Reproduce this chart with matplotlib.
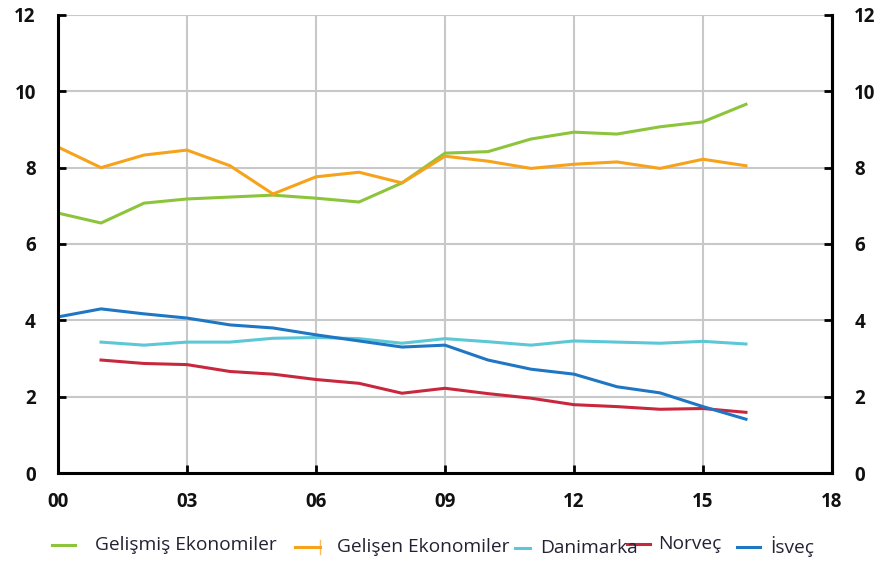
import numpy as np
import matplotlib
matplotlib.use('Agg')
import matplotlib.pyplot as plt
from matplotlib.lines import Line2D

plt.rcParams['font.family'] = ['Open Sans', 'DejaVu Sans']

years = np.arange(0, 17)
years_nordic = np.arange(1, 17)

gelismis = [6.81, 6.55, 7.07, 7.18, 7.23, 7.28, 7.20, 7.10, 7.60, 8.38,
            8.42, 8.75, 8.93, 8.88, 9.07, 9.20, 9.66]
gelisen = [8.54, 8.00, 8.33, 8.46, 8.05, 7.31, 7.76, 7.88, 7.60, 8.30,
           8.17, 7.98, 8.09, 8.15, 7.98, 8.22, 8.05]
isvec = [4.09, 4.30, 4.17, 4.06, 3.88, 3.80, 3.62, 3.46, 3.30, 3.35,
         2.96, 2.72, 2.59, 2.26, 2.10, 1.74, 1.41]
danimarka = [3.43, 3.35, 3.43, 3.43, 3.53, 3.55, 3.52, 3.40, 3.52,
             3.44, 3.35, 3.46, 3.43, 3.40, 3.45, 3.38]
norvec = [2.96, 2.87, 2.84, 2.66, 2.59, 2.45, 2.35, 2.09, 2.22,
          2.08, 1.96, 1.79, 1.74, 1.67, 1.69, 1.59]

xticks = [0, 3, 6, 9, 12, 15, 18]
xtick_labels = ['00', '03', '06', '09', '12', '15', '18']
yticks = [0, 2, 4, 6, 8, 10, 12]

green = '#8cc43c'
orange = '#f7a21b'
cyan = '#5cc8d6'
red = '#c8283e'
blue = '#1f77c4'

fig = plt.figure(figsize=(8.83, 5.65), dpi=100)
ax = fig.add_axes([0.0657, 0.1628, 0.8765, 0.8107])

lw = 2.2
ax.plot(years, gelismis, color=green, lw=lw)
ax.plot(years, gelisen, color=orange, lw=lw)
ax.plot(years_nordic, danimarka, color=cyan, lw=lw)
ax.plot(years_nordic, norvec, color=red, lw=lw)
ax.plot(years, isvec, color=blue, lw=lw)

ax.set_xlim(0, 18)
ax.set_ylim(0, 12)
ax.set_xticks(xticks)
ax.set_xticklabels(xtick_labels)
ax.set_yticks(yticks)
ax.grid(True, color='#c8c8c8', lw=1.5)
ax.set_axisbelow(True)

for side in ['left', 'right', 'bottom']:
    ax.spines[side].set_linewidth(2.2)
    ax.spines[side].set_color('black')
ax.spines['top'].set_visible(False)

ax.tick_params(axis='both', direction='in', length=6, width=2, labelsize=13.5,
               labelcolor='#111111')
ax.tick_params(axis='x', pad=14)
ax.tick_params(axis='y', pad=16)
for lab in ax.get_xticklabels() + ax.get_yticklabels():
    lab.set_fontweight('bold')

# right-hand axis repeats the same scale
ax2 = ax.twinx()
ax2.set_ylim(ax.get_ylim())
ax2.set_yticks(yticks)
ax2.tick_params(axis='y', direction='in', length=6, width=2, labelsize=13.5,
                labelcolor='#111111', pad=16)
for lab in ax2.get_yticklabels():
    lab.set_fontweight('bold')
for side in ['left', 'top', 'bottom']:
    ax2.spines[side].set_visible(False)
ax2.spines['right'].set_linewidth(2.2)

# legend row laid out by hand
W, H = 883, 565
entries = [
    (green, 52, 75, 95, 'Gelişmiş Ekonomiler', 545),
    (orange, 295, 320, 337, 'Gelişen Ekonomiler', 547),
    (cyan, 515, 530, 540, 'Danimarka', 548),
    (red, 627, 650, 658, 'Norveç', 544),
    (blue, 737, 760, 770, 'İsveç', 547),
]
for color, x0, x1, xt, label, yp in entries:
    y = 1 - yp / H
    fig.add_artist(Line2D([x0 / W, x1 / W], [y, y], color=color, lw=2.2,
                          transform=fig.transFigure))
    fig.text(xt / W, y, label, fontsize=13.8, color='#222233',
             ha='left', va='center')

# small end bar on the orange key
fig.add_artist(Line2D([320 / W, 320 / W], [1 - 540 / H, 1 - 554 / H],
                      color=orange, lw=1, alpha=0.7, transform=fig.transFigure))

fig.savefig('out.png', dpi=100)
